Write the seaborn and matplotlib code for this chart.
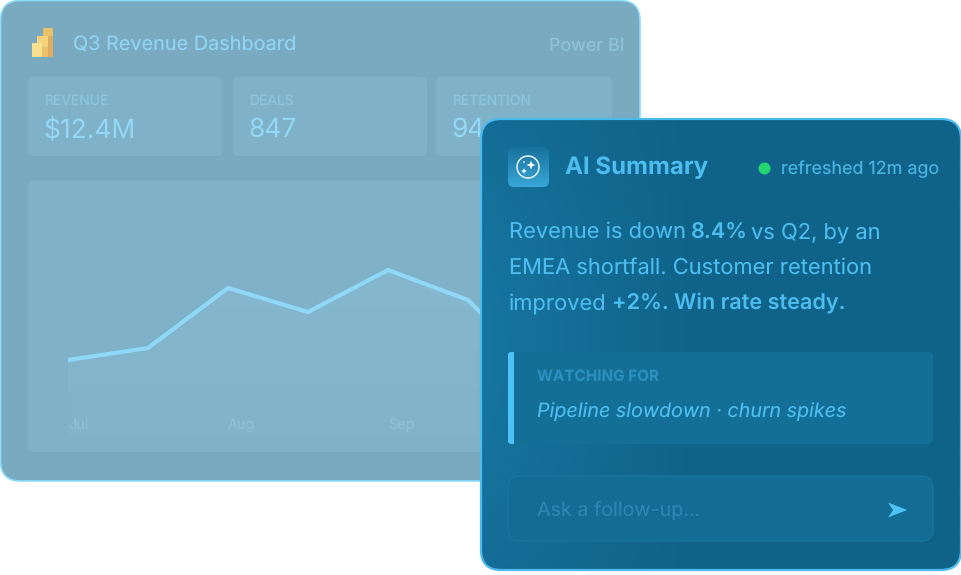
import numpy as np
import pandas as pd
import seaborn as sns
import matplotlib.pyplot as plt
from matplotlib.patches import FancyBboxPatch, Polygon, Circle, Rectangle

W, H = 962, 575

# chart data
weeks = [0, 1, 2, 3, 4, 5, 6]
revenue = [76, 88, 148, 124, 166, 136, 56]
month_ticks = [0, 2, 4]
month_labels = ['Jul', 'Aug', 'Sep']

# kpi cards, the third value is cut off by the front panel
kpi_names = ['REVENUE', 'DEALS', 'RETENTION']
kpi_values = ['$12.4M', '847', '94']

sns.set_theme(style='white')
plt.rcParams['font.family'] = ['Inter', 'DejaVu Sans']
plt.rcParams['text.hinting'] = 'no_hinting'
plt.rcParams['text.hinting_factor'] = 1

fig = plt.figure(figsize=(W / 100, H / 100), dpi=100)
fig.patch.set_facecolor('white')


def px_axes(zorder):
    a = fig.add_axes([0, 0, 1, 1], zorder=zorder)
    a.set_xlim(0, W)
    a.set_ylim(H, 0)
    a.axis('off')
    a.patch.set_alpha(0)
    return a


def rbox(a, x0, y0, x1, y1, r, fc, ec='none', lw=0, z=2):
    p = FancyBboxPatch((x0 + r, y0 + r), x1 - x0 - 2 * r, y1 - y0 - 2 * r,
                       boxstyle=f'round,pad={r},rounding_size={r}',
                       fc=fc, ec=ec, lw=lw, zorder=z)
    a.add_patch(p)
    return p


# back panel
back = px_axes(0)
rbox(back, 0.5, 0.5, 640, 481, 20, '#7aaabf', '#8ddcfb', 1.2)

back.add_patch(Rectangle((43, 28), 10, 29, fc='#e9bf68', ec='none', zorder=3))
back.add_patch(Rectangle((48, 36), 5, 21, fc='#dfac63', ec='none', zorder=4))
back.add_patch(Rectangle((37, 36), 11, 21, fc='#f3d27c', ec='none', zorder=4))
back.add_patch(Rectangle((42, 47), 6, 10, fc='#ecc36c', ec='none', zorder=5))
back.add_patch(Rectangle((32, 43), 10, 14, fc='#f8e191', ec='none', zorder=5))

back.text(73, 51, 'Q3 Revenue Dashboard', fontsize=14.3, color='#8fd5f3', va='baseline')
back.text(625, 51, 'Power BI', fontsize=12.9, color='#8cc3db', va='baseline', ha='right')

card_x = [(28, 222), (233, 427), (436, 612)]
for (x0, x1), name, val in zip(card_x, kpi_names, kpi_values):
    rbox(back, x0, 77, x1, 156, 5, '#7fb1c8')
    back.text(x0 + 16.5, 105, name, fontsize=10, color='#8cc5de', va='baseline')
    back.text(x0 + 15.5, 137, val, fontsize=19, color='#93d8f6', va='baseline')

rbox(back, 28, 181, 612, 452, 5, '#7fb1c8')

# line chart sits on the back panel, its x range runs under the front panel
ax = fig.add_axes([68 / W, 1 - 436 / H, 480 / W, 255 / H], zorder=1)
ax.patch.set_alpha(0)
ax.set_axisbelow(False)
df = pd.DataFrame({'week': weeks, 'revenue': revenue})
area = ax.fill_between(df['week'], df['revenue'], 0, color='none', lw=0)
shade = ax.imshow(np.linspace(0, 1, 50)[:, None], extent=(0, 6, 0, 255), aspect='auto',
                  cmap=sns.blend_palette(['#87b9d0', '#81b3ca'], as_cmap=True), zorder=1)
shade.set_clip_path(area.get_paths()[0], ax.transData)
sns.lineplot(data=df, x='week', y='revenue', ax=ax, color='#8fd8f8', lw=3, errorbar=None)
ax.set_xlim(0, 6)
ax.set_ylim(0, 255)
ax.set_xlabel('')
ax.set_ylabel('')
ax.set_yticks([])
ax.set_xticks(month_ticks, month_labels)
ax.tick_params(axis='x', length=0, pad=-5, labelsize=10.4, labelcolor='#8ebfd6')
for lab in ax.get_xticklabels():
    lab.set_ha('left')
    lab.set_va('baseline')
for sp in ax.spines.values():
    sp.set_visible(False)

# front panel
front = px_axes(2)
rbox(front, 481, 119, 961, 570, 20, 'none', '#4cbcee', 1.6, z=3)
gx, gy = np.meshgrid(np.linspace(0, 1, 240), np.linspace(0, 1, 220))
c0 = np.array([0x0f, 0x63, 0x89]) / 255
c1 = np.array([0x17, 0x75, 0xa0]) / 255
glow = np.clip(1 - gx / 0.45, 0, 1) * (0.55 + 0.45 * np.sin(gy * np.pi))
img = c0 + (c1 - c0) * glow[..., None]
im = front.imshow(img, extent=(481, 961, 570, 119), aspect='auto', zorder=2)
im.set_clip_path(rbox(front, 481, 119, 961, 570, 20, 'none', z=1))
front.set_xlim(0, W)
front.set_ylim(H, 0)

# icon
icon = front.imshow(np.linspace(0, 1, 40)[:, None], extent=(508, 549, 187, 147), aspect='auto',
                    cmap=sns.blend_palette(['#17739c', '#38a6d8'], as_cmap=True), zorder=4)
icon.set_clip_path(rbox(front, 508, 147, 549, 187, 6, 'none', z=1))
front.set_xlim(0, W)
front.set_ylim(H, 0)
front.add_patch(Circle((528, 167), 11, fc='none', ec='white', lw=1, zorder=5))
for sx, sy, sr in [(531, 165, 4.5), (524, 171, 3), (524, 162, 1.5)]:
    front.add_patch(Polygon([(sx, sy - sr), (sx + sr * .28, sy - sr * .28), (sx + sr, sy),
                             (sx + sr * .28, sy + sr * .28), (sx, sy + sr),
                             (sx - sr * .28, sy + sr * .28), (sx - sr, sy),
                             (sx - sr * .28, sy - sr * .28)], fc='white', ec='none', zorder=5))

TXT = '#4cbdee'
front.text(565, 174, 'AI Summary', fontsize=17.3, fontweight='bold', color=TXT, va='baseline', zorder=6)
front.add_patch(Circle((764.5, 168.5), 6, fc='#22d56f', ec='none', zorder=6))
front.text(781, 174, 'refreshed 12m ago', fontsize=12.9, color='#49b3e0', va='baseline', zorder=6)

# summary text, each run starts where it does in the picture
body = [
    (509, 238, 'Revenue is down', 'normal'),
    (691, 238, '8.4%', 'semibold'),
    (751, 238, 'vs Q2, by an', 'normal'),
    (509, 274, 'EMEA shortfall. Customer retention', 'normal'),
    (509, 310, 'improved', 'normal'),
    (612, 310, '+2%. Win rate steady.', 'semibold'),
]
for x, y, s, w in body:
    size = 15.75 if w == 'normal' else 15.6
    front.text(x, y, s, fontsize=size, fontweight=w, color=TXT, va='baseline', zorder=6)

# watching box
rbox(front, 508, 352, 933, 444, 6, '#146f96', z=4)
rbox(front, 508, 352, 514, 444, 3, '#4cc3f7', z=5)
front.add_patch(Rectangle((511, 352), 3, 92, fc='#4cc3f7', ec='none', zorder=5))
front.text(537, 381, 'WATCHING FOR', fontsize=11, fontweight='bold', color='#2b90bf', va='baseline', zorder=6)
front.text(537, 416.5, 'Pipeline slowdown · churn spikes', fontsize=14.2, style='italic', color=TXT,
           va='baseline', zorder=6)

# input box
rbox(front, 508, 476, 933, 541, 12, '#136c93', '#1a779f', 0.8, z=4)
front.text(537, 516, 'Ask a follow-up...', fontsize=14.2, color='#2b86b1', va='baseline', zorder=6)
front.add_patch(Polygon([(888, 502.5), (907, 510), (888, 517.5), (893, 510)], fc='#4cc3f7', ec='none', zorder=6))

fig.savefig('out.png', dpi=100)
